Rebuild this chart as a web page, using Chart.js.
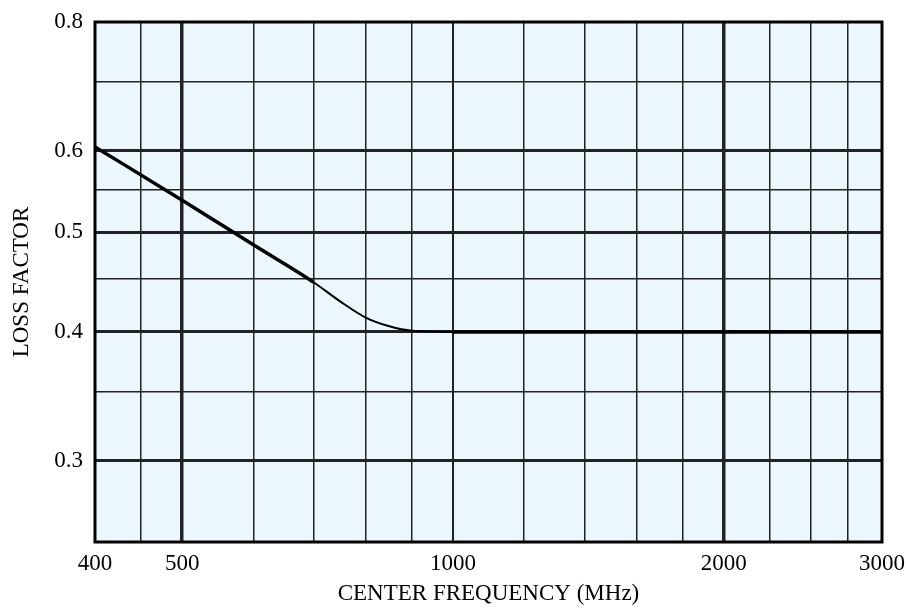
<!DOCTYPE html>
<html lang="en">
<head>
  <meta charset="UTF-8" />
  <title>Loss Factor vs Center Frequency</title>
  <script src="https://cdn.jsdelivr.net/npm/chart.js"></script>
  <style>
    html,body{margin:0;padding:0;background:#fff}
    #wrap{width:906px;height:608px}
  </style>
</head>
<body>
<div id="wrap"><canvas id="lossChart" width="906" height="608"></canvas></div>
<script>
// curve
const freqMHz    = [400, 500, 600, 700, 750, 800, 850, 900, 1000, 2000, 3000];
const lossFactor = [0.605, 0.537, 0.486, 0.447, 0.428, 0.413, 0.405, 0.401, 0.4, 0.4, 0.4];

// grid and labels
const xGrid   = [400, 450, 500, 600, 700, 800, 900, 1000, 1200, 1400, 1600, 1800, 2000, 2250, 2500, 2750, 3000];
const xLabels = [400, 500, 1000, 2000, 3000];
const xHeavy  = [500, 2000];
const yGrid   = [0.25, 0.3, 0.35, 0.4, 0.45, 0.5, 0.55, 0.6, 0.7, 0.8];
const yLabels = [0.3, 0.4, 0.5, 0.6, 0.8];
const yHeavy  = [0.3, 0.4, 0.5, 0.6];

const font = {family:'"Liberation Serif", "DejaVu Serif", serif', size:23};

const plotFrame = {
  id:'plotFrame',
  beforeDraw(chart){
    const {ctx, chartArea:a} = chart;
    ctx.save();
    ctx.fillStyle = '#ebf6fd';
    ctx.fillRect(a.left, a.top, a.right - a.left, a.bottom - a.top);
    ctx.restore();
  },
  afterDraw(chart){
    const {ctx, chartArea:a} = chart;
    ctx.save();
    ctx.strokeStyle = '#000';
    ctx.lineWidth = 3;
    ctx.strokeRect(a.left, a.top, a.right - a.left, a.bottom - a.top);
    ctx.restore();
  }
};

new Chart(document.getElementById('lossChart'), {
  type:'line',
  data:{
    datasets:[{
      data: freqMHz.map((f,i)=>({x:f, y:lossFactor[i]})),
      borderColor:'#000',
      borderWidth:3.5,
      pointRadius:0,
      cubicInterpolationMode:'monotone',
      segment:{borderWidth:c=>c.p0.parsed.x >= 700 && c.p0.parsed.x < 1000 ? 2 : 3.5}
    }]
  },
  options:{
    responsive:false,
    animation:false,
    layout:{padding:{top:22, right:24, left:0, bottom:0}},
    plugins:{legend:{display:false}, tooltip:{enabled:false}},
    scales:{
      x:{
        type:'logarithmic', min:400, max:3000,
        afterBuildTicks:s=>{ s.ticks = xGrid.map(v=>({value:v})); },
        afterFit:s=>{ s.height = 66; s.paddingLeft = 0; s.paddingRight = 0; },
        ticks:{
          autoSkip:false, maxRotation:0, color:'#000', font, padding:8,
          callback:v=>xLabels.includes(v) ? String(v) : ''
        },
        grid:{
          drawTicks:false, color:'#222',
          lineWidth:c=>xHeavy.includes(c.tick.value) ? 3.5 : (c.tick.value === 1000 ? 2 : 1.5)
        },
        border:{display:false},
        title:{display:true, text:'CENTER FREQUENCY (MHz)', color:'#000', font, padding:{top:4, bottom:0}}
      },
      y:{
        type:'logarithmic', min:0.25, max:0.8,
        afterBuildTicks:s=>{ s.ticks = yGrid.map(v=>({value:v})); },
        afterFit:s=>{ s.width = 95; s.paddingTop = 0; s.paddingBottom = 0; },
        ticks:{
          autoSkip:false, color:'#000', font, padding:12,
          callback:v=>yLabels.includes(v) ? v.toFixed(1) : ''
        },
        grid:{
          drawTicks:false, color:'#222',
          lineWidth:c=>yHeavy.includes(c.tick.value) ? 3 : 1.5
        },
        border:{display:false},
        title:{display:true, text:'LOSS FACTOR', color:'#000', font, padding:{top:8, bottom:4}}
      }
    }
  },
  plugins:[plotFrame]
});
</script>
</body>
</html>
